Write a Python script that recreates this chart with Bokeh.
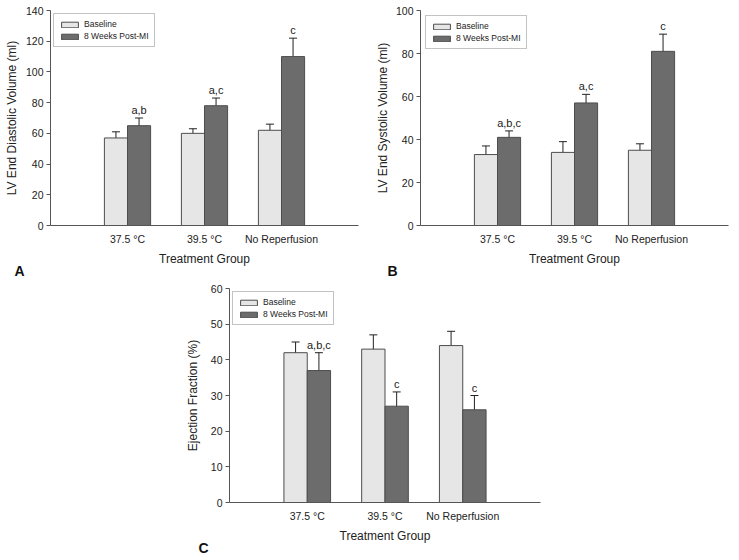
import numpy as np
from bokeh.plotting import figure
from bokeh.layouts import row, column
from bokeh.models import (Range1d, FixedTicker, ColumnDataSource, Whisker, TeeHead,
                          Title, Legend, LegendItem, Spacer)
from bokeh.core.properties import value
from bokeh.embed import file_html
from bokeh.resources import INLINE

groups = ["37.5 °C", "39.5 °C", "No Reperfusion"]
series = ["Baseline", "8 Weeks Post-MI"]

# Panel A: LV end diastolic volume (ml)
edv_base = [57, 60, 62]
edv_base_err = [4, 3, 4]
edv_post = [65, 78, 110]
edv_post_err = [5, 5, 12]
edv_marks = ["a,b", "a,c", "c"]

# Panel B: LV end systolic volume (ml)
esv_base = [33, 34, 35]
esv_base_err = [4, 5, 3]
esv_post = [41, 57, 81]
esv_post_err = [3, 4, 8]
esv_marks = ["a,b,c", "a,c", "c"]

# Panel C: ejection fraction (%)
ef_base = [42, 43, 44]
ef_base_err = [3, 4, 4]
ef_post = [37, 27, 26]
ef_post_err = [5, 4, 4]
ef_marks = ["a,b,c", "c", "c"]

FONT = "Liberation Sans"
BASE_COLOR = "#e6e6e6"
POST_COLOR = "#6c6c6c"
EDGE = "#4d4d4d"
TEXT = "#222222"


def panel(base, base_err, post, post_err, marks, ymax, ystep, ylabel, letter,
          width, height, borders, lab_std, letter_off, legend_margin):
    bl, br, bt, bb = borders
    p = figure(width=width, height=height, output_backend="svg", toolbar_location=None,
               x_range=Range1d(0, len(groups) + 1), y_range=Range1d(0, ymax),
               min_border_left=bl, min_border_right=br, min_border_top=bt,
               min_border_bottom=bb)
    p.outline_line_color = None
    p.xgrid.grid_line_color = None
    p.ygrid.grid_line_color = None
    p.background_fill_color = "white"
    p.border_fill_color = "white"

    xs = np.arange(1, len(groups) + 1)
    w = 0.3
    src_b = ColumnDataSource(dict(x=xs - w / 2, top=base,
                                  upper=np.array(base) + np.array(base_err),
                                  lower=np.array(base) - np.array(base_err)))
    src_p = ColumnDataSource(dict(x=xs + w / 2, top=post,
                                  upper=np.array(post) + np.array(post_err),
                                  lower=np.array(post) - np.array(post_err),
                                  mark=marks))
    rb = p.vbar(x="x", top="top", width=w, source=src_b, fill_color=BASE_COLOR,
                line_color=EDGE, line_width=1)
    rp = p.vbar(x="x", top="top", width=w, source=src_p, fill_color=POST_COLOR,
                line_color=EDGE, line_width=1)
    for s in (src_b, src_p):
        wk = Whisker(source=s, base="x", upper="upper", lower="lower",
                     line_color="#222222", line_width=1,
                     upper_head=TeeHead(size=8, line_color="#222222", line_width=1),
                     lower_head=TeeHead(size=8, line_color="#222222", line_width=1))
        p.add_layout(wk)
    p.text(x="x", y="upper", text="mark", source=src_p, text_align="center",
           text_baseline="alphabetic", y_offset=-8, text_font=value(FONT),
           text_font_size="11px", text_color=TEXT)

    # axes
    p.xaxis.ticker = FixedTicker(ticks=list(xs))
    p.xaxis.major_label_overrides = {int(x): g for x, g in zip(xs, groups)}
    p.xaxis.major_tick_line_color = None
    p.xaxis.major_tick_out = 0
    p.xaxis.major_tick_in = 0
    p.xaxis.minor_tick_line_color = None
    p.xaxis.minor_tick_out = 0
    p.xaxis.major_label_standoff = 7
    p.xaxis.axis_label = "Treatment Group"
    p.xaxis.axis_label_standoff = 4
    p.yaxis.ticker = FixedTicker(ticks=list(range(0, ymax + 1, ystep)))
    p.yaxis.minor_tick_line_color = None
    p.yaxis.minor_tick_out = 0
    p.yaxis.major_tick_in = 0
    p.yaxis.major_tick_out = 4
    p.yaxis.major_label_standoff = 3
    p.yaxis.axis_label = ylabel
    p.yaxis.axis_label_standoff = lab_std
    for ax in (p.xaxis[0], p.yaxis[0]):
        ax.axis_line_color = "#555555"
        ax.major_label_text_font = FONT
        ax.major_label_text_font_size = "10.5px"
        ax.major_label_text_color = TEXT
        ax.axis_label_text_font = FONT
        ax.axis_label_text_font_size = "12px"
        ax.axis_label_text_font_style = "normal"
        ax.axis_label_text_color = TEXT
    p.yaxis.major_tick_line_color = "#555555"

    legend = Legend(items=[LegendItem(label=series[0], renderers=[rb]),
                           LegendItem(label=series[1], renderers=[rp])],
                    location="top_left", margin=legend_margin, padding=5, spacing=2,
                    glyph_width=21, glyph_height=7, label_height=9,
                    label_standoff=4, label_text_font=FONT, label_text_font_size="8.5px",
                    label_text_color=TEXT, border_line_color="#888888",
                    border_line_width=1, background_fill_alpha=1.0)
    p.add_layout(legend)

    p.add_layout(Title(text=letter, align="left", offset=letter_off, standoff=-12,
                       vertical_align="top",
                       text_font=FONT, text_font_size="14px", text_font_style="bold",
                       text_color="#111111"), "below")
    return p


pA = panel(edv_base, edv_base_err, edv_post, edv_post_err, edv_marks, 140, 20,
           "LV End Diastolic Volume (ml)", "A", 370, 283, (50, 12, 10, 58), 4,
           -36, 3)
pB = panel(esv_base, esv_base_err, esv_post, esv_post_err, esv_marks, 100, 20,
           "LV End Systolic Volume (ml)", "B", 369, 283, (50, 11, 10, 57), 3,
           -33, 5)
pC = panel(ef_base, ef_base_err, ef_post, ef_post_err, ef_marks, 60, 10,
           "Ejection Fraction (%)", "C", 380, 277, (49, 20, 5, 58), 8,
           -31, 3)

layout = column(row(pA, pB), row(Spacer(width=180, height=277), pC))
open("out.html", "w").write(file_html(layout, INLINE))
